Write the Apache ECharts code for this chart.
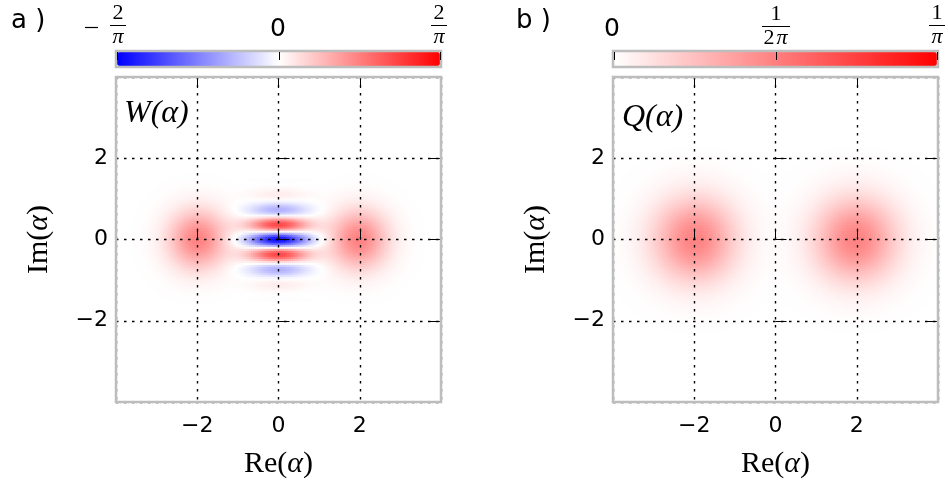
<!DOCTYPE html>
<html><head><meta charset="utf-8">
<script src="https://cdn.jsdelivr.net/npm/echarts@6/dist/echarts.min.js"></script>
<style>html,body{margin:0;padding:0;background:#fff}#c{width:948px;height:487px}</style>
</head><body><div id="c"></div><script>
// ---- data ----
const STEP = 0.05;                 // sampling step of the profiles (units of alpha)
const HALF_CELLS = 80;             // axis range -4..4 => 80 steps on each side
const blobCenters = [-2, 2];       // blob positions on Re(alpha)
const tickValues = [-2, 0, 2];
const W_MAX = 0.6366;              // colorbar limit 2/pi
const Q_MAX = 0.3183;              // colorbar limit 1/pi
const wBlobPeak = 0.318;           // peak of W blobs (~1/pi)
const wFringePeak = 0.6366;        // depth of central fringe (~2/pi, blue at origin)
const qBlobPeak = 0.159;           // peak of Q blobs (~1/(2pi))
// radial profile of the W blobs / fringe envelope, every 0.05 from the centre
const wBlobProfile = [1,0.995,0.980,0.956,0.923,0.882,0.835,0.783,0.726,0.667,0.607,0.546,0.487,0.430,0.375,0.325,0.278,0.236,0.198,0.164,0.135,0.110,0.089,0.071,0.056,0.044,0.034,0.026,0.020,0.015,0.011,0.008,0.006,0.004,0.003,0.002,0.0015];
// fringe profile along Im(alpha), every 0.05 from 0
const wFringeProfile = [1,0.917,0.683,0.346,-0.027,-0.367,-0.615,-0.738,-0.725,-0.598,-0.397,-0.168,0.042,0.201,0.291,0.312,0.276,0.205,0.120,0.042,-0.020,-0.057,-0.072,-0.069,-0.055,-0.037,-0.019,-0.005,0.004,0.008,0.009];
// radial profile of the Q blobs, every 0.05 from the centre
const qBlobProfile = [1,0.9975,0.990,0.978,0.961,0.939,0.914,0.885,0.852,0.817,0.779,0.739,0.698,0.655,0.613,0.570,0.527,0.486,0.445,0.406,0.368,0.332,0.298,0.266,0.237,0.210,0.185,0.162,0.141,0.122,0.105,0.0905,0.077,0.0657,0.0556,0.0468,0.0392,0.0326,0.0271,0.0223,0.0183,0.0150,0.0122,0.0098,0.0079,0.0063,0.0050,0.0040,0.0032,0.0025,0.0019,0.0015,0.0012];

// ---- build tables ----
function prof(arr, k){ k = Math.abs(k); return k < arr.length ? arr[k] : 0; }
const cats = [];
for (let k = -HALF_CELLS; k <= HALF_CELLS; k++) cats.push((k*STEP).toFixed(2));
const shifts = blobCenters.map(c => Math.round(c/STEP));
const wData = [], qData = [];
for (let i = 0; i < cats.length; i++) {
  const kx = i - HALF_CELLS;
  for (let j = 0; j < cats.length; j++) {
    const kp = j - HALF_CELLS;
    let w = 0, q = 0;
    shifts.forEach(s => {
      w += wBlobPeak * prof(wBlobProfile, kx - s) * prof(wBlobProfile, kp);
      q += qBlobPeak * prof(qBlobProfile, kx - s) * prof(qBlobProfile, kp);
    });
    w -= wFringePeak * prof(wBlobProfile, kx) * prof(wFringeProfile, kp);
    wData.push([i, j, +w.toFixed(4)]);
    qData.push([i, j, +q.toFixed(4)]);
  }
}

const chart = echarts.init(document.getElementById('c'), null, {renderer:'canvas'});
const SANS = 'DejaVu Sans';
const SERIF = 'Liberation Serif';
const GRIDS = [{left:116, top:77, size:325}, {left:613, top:77, size:325}];

function fmt(v){ if (!tickValues.includes(v)) return ''; return v < 0 ? '\u2212' + Math.abs(v) : String(v); }
const dotted = {show:true, lineStyle:{color:'#000', width:1.4, type:[2.5,5.5]}};
const nameRich = {rich:{r:{fontFamily:SERIF, fontSize:30, color:'#000'}, i:{fontFamily:SERIF, fontStyle:'italic', fontSize:30, color:'#000'}}};
const xAxes = [], yAxes = [];
GRIDS.forEach((g, gi) => {
  xAxes.push({type:'category', gridIndex:gi, data:cats, show:false});
  yAxes.push({type:'category', gridIndex:gi, data:cats, show:false});
});
GRIDS.forEach((g, gi) => {
  xAxes.push({type:'value', gridIndex:gi, position:'bottom', min:-4, max:4, interval:2, z:10,
    axisLine:{show:false}, axisTick:{inside:true, length:11, lineStyle:{color:'#000', width:1}},
    axisLabel:{formatter:fmt, fontSize:22, color:'#000', fontFamily:SANS, margin:13},
    splitLine:dotted,
    name:'{r|Re(}{i|\u03b1}{r|)}', nameLocation:'middle', nameGap:47, nameTextStyle:nameRich
  });
  xAxes.push({type:'value', gridIndex:gi, position:'top', min:-4, max:4, interval:2, z:10,
    axisLine:{show:false}, axisTick:{inside:true, length:11, lineStyle:{color:'#000', width:1}},
    axisLabel:{show:false}, splitLine:{show:false}});
  yAxes.push({type:'value', gridIndex:gi, position:'left', min:-4, max:4, interval:2, z:10,
    axisLine:{show:false}, axisTick:{inside:true, length:11, lineStyle:{color:'#000', width:1}},
    axisLabel:{formatter:fmt, fontSize:22, color:'#000', fontFamily:SANS, margin:8},
    splitLine:dotted,
    name:'{r|Im(}{i|\u03b1}{r|)}', nameLocation:'middle', nameGap:62, nameTextStyle:nameRich
  });
  yAxes.push({type:'value', gridIndex:gi, position:'right', min:-4, max:4, interval:2, z:10,
    axisLine:{show:false}, axisTick:{inside:true, length:11, lineStyle:{color:'#000', width:1}},
    axisLabel:{show:false}, splitLine:{show:false}});
});

const FRAME = '#bdbdbd';
const graphics = [];
// plot frames
GRIDS.forEach(g => {
  graphics.push({type:'rect', z:100, silent:true, shape:{x:g.left, y:g.top, width:g.size, height:g.size},
    style:{fill:null, stroke:FRAME, lineWidth:2.5}});
});
// colorbar frames and ticks
const CB_TOP = 51, CB_H = 16;
GRIDS.forEach(g => {
  graphics.push({type:'rect', z:100, silent:true, shape:{x:g.left, y:CB_TOP, width:g.size, height:CB_H},
    style:{fill:null, stroke:FRAME, lineWidth:2.5}});
  [0, 0.5, 1].forEach(f => {
    const x = Math.round(g.left + 1 + f*(g.size-2)) + 0.5;
    graphics.push({type:'line', z:101, silent:true, shape:{x1:x, y1:CB_TOP+1, x2:x, y2:CB_TOP+9},
      style:{stroke:'#000', lineWidth:1}});
  });
});
// fraction label helper
const FS = 22;
function frac(cx, num, den, lineY, w){
  graphics.push({type:'text', z:100, style:{text:num, x:cx, y:lineY-0.5, fontFamily:SERIF, fontSize:FS, fill:'#000', align:'center', verticalAlign:'bottom'}});
  graphics.push({type:'line', z:100, shape:{x1:cx-w/2, y1:lineY+0.5, x2:cx+w/2, y2:lineY+0.5}, style:{stroke:'#000', lineWidth:1}});
  graphics.push({type:'text', z:100, style:{text:den, x:cx, y:lineY+1, fontFamily:SERIF, fontStyle:'italic', fontSize:FS, fill:'#000', align:'center', verticalAlign:'top'}});
}
// left colorbar labels
graphics.push({type:'line', shape:{x1:85, y1:27.5, x2:98, y2:27.5}, style:{stroke:'#000', lineWidth:1.2}});
frac(118, '2', '\u03c0', 25, 16);
graphics.push({type:'text', style:{text:'0', x:278, y:29, fontFamily:SANS, fontSize:25, fill:'#000', align:'center', verticalAlign:'middle'}});
frac(439, '2', '\u03c0', 25, 16);
// right colorbar labels
graphics.push({type:'text', style:{text:'0', x:612, y:29, fontFamily:SANS, fontSize:25, fill:'#000', align:'center', verticalAlign:'middle'}});
graphics.push({type:'text', z:100, style:{text:'1', x:776, y:25.5, fontFamily:SERIF, fontSize:FS, fill:'#000', align:'center', verticalAlign:'bottom'}});
graphics.push({type:'line', shape:{x1:762, y1:26.5, x2:790, y2:26.5}, style:{stroke:'#000', lineWidth:1}});
graphics.push({type:'text', style:{text:'2', x:769, y:27, fontFamily:SERIF, fontSize:FS, fill:'#000', align:'center', verticalAlign:'top'}});
graphics.push({type:'text', style:{text:'\u03c0', x:782, y:27, fontFamily:SERIF, fontStyle:'italic', fontSize:FS, fill:'#000', align:'center', verticalAlign:'top'}});
frac(937, '1', '\u03c0', 25, 16);
// panel letters
graphics.push({type:'text', style:{text:'a )', x:11, y:21, fontFamily:SANS, fontSize:26, fill:'#000', verticalAlign:'middle'}});
graphics.push({type:'text', style:{text:'b )', x:516, y:21, fontFamily:SANS, fontSize:26, fill:'#000', verticalAlign:'middle'}});
// function labels inside plots
graphics.push({type:'text', z:50, style:{text:'W(\u03b1)', x:124, y:114, fontFamily:SERIF, fontStyle:'italic', fontSize:32, fill:'#000', verticalAlign:'middle'}});
graphics.push({type:'text', z:50, style:{text:'Q(\u03b1)', x:622, y:118, fontFamily:SERIF, fontStyle:'italic', fontSize:32, fill:'#000', verticalAlign:'middle'}});

chart.setOption({
  animation:false,
  backgroundColor:'#fff',
  grid: GRIDS.map(g => ({left:g.left, top:g.top, width:g.size, height:g.size, containLabel:false})),
  xAxis: xAxes,
  yAxis: yAxes,
  visualMap: [
    {type:'continuous', seriesIndex:0, min:-W_MAX, max:W_MAX, orient:'horizontal', left:117, top:52,
     itemWidth:14, itemHeight:323, calculable:false, padding:0, text:null, hoverLink:false,
     inRange:{color:['#0000ff','#ffffff','#ff0000']}},
    {type:'continuous', seriesIndex:1, min:0, max:Q_MAX, orient:'horizontal', left:614, top:52,
     itemWidth:14, itemHeight:323, calculable:false, padding:0, text:null, hoverLink:false,
     inRange:{color:['#ffffff','#ff0000']}}
  ],
  series: [
    {type:'heatmap', xAxisIndex:0, yAxisIndex:0, data:wData, progressive:0, emphasis:{disabled:true}, silent:true},
    {type:'heatmap', xAxisIndex:1, yAxisIndex:1, data:qData, progressive:0, emphasis:{disabled:true}, silent:true}
  ],
  graphic: graphics
});
</script></body></html>
